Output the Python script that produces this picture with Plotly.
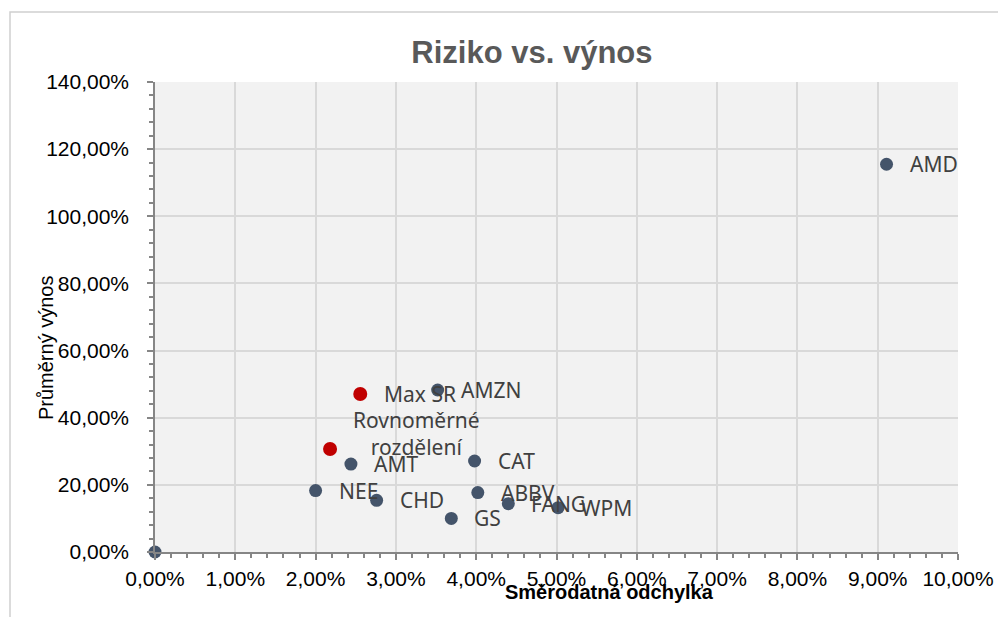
import plotly.graph_objects as go

# Data (std dev, mean return)
names = ["AMD", "AMZN", "CAT", "AMT", "NEE", "CHD", "ABBV", "FANG", "WPM", "GS", ""]
risk = [0.0911, 0.0352, 0.0398, 0.0244, 0.0200, 0.0276, 0.0402, 0.0440, 0.0502, 0.0369, 0.0]
ret = [1.155, 0.4826, 0.271, 0.262, 0.183, 0.154, 0.177, 0.144, 0.132, 0.100, 0.0]

port_names = ["Max SR", "Rovnoměrné<br>rozdělení"]
port_risk = [0.02556, 0.0218]
port_ret = [0.4706, 0.307]

x_ticks = [i / 100 for i in range(0, 11)]
y_ticks = [i / 100 for i in range(0, 141, 20)]

BLUE = "#44546A"
RED = "#C00000"
AXIS = "#868686"
GRID = "#D9D9D9"

fig = go.Figure()
fig.add_trace(go.Scatter(
    x=port_risk, y=port_ret, mode="markers",
    marker=dict(size=14, color=RED), cliponaxis=False, hoverinfo="skip"))
fig.add_trace(go.Scatter(
    x=risk, y=ret, mode="markers",
    marker=dict(size=13, color=BLUE), cliponaxis=False, hoverinfo="skip"))

label_font = dict(family="Noto Sans", size=21, color="#404040")
annotations = []
for n, xv, yv in zip(names, risk, ret):
    if n:
        annotations.append(dict(x=xv, y=yv, xref="x", yref="y", text=n, showarrow=False,
                                xanchor="left", yanchor="middle", xshift=21, font=label_font))
annotations.append(dict(x=port_risk[0], y=port_ret[0], xref="x", yref="y", text=port_names[0],
                        showarrow=False, xanchor="left", yanchor="middle", xshift=22, font=label_font))
annotations.append(dict(x=port_risk[1], y=port_ret[1], xref="x", yref="y", text=port_names[1],
                        showarrow=False, xanchor="center", yanchor="middle", align="center",
                        xshift=86, yshift=15, font=label_font))

# axis titles
annotations.append(dict(x=0.5654, y=-0.085, xref="paper", yref="paper", text="Směrodatná odchylka",
                        showarrow=False, xanchor="center", yanchor="middle",
                        font=dict(family="Liberation Sans", size=20, color="black", weight="bold")))
annotations.append(dict(x=-0.1357, y=0.434, xref="paper", yref="paper", text="Průměrný výnos",
                        showarrow=False, xanchor="center", yanchor="middle", textangle=-90,
                        font=dict(family="Liberation Sans", size=20, color="black")))

tick_font = dict(family="Liberation Sans", size=21, color="black")

fig.update_layout(
    width=998, height=617,
    margin=dict(l=155, r=40, t=82, b=65, autoexpand=False),
    paper_bgcolor="white", plot_bgcolor="#F2F2F2",
    separators=", ",
    showlegend=False,
    title=dict(text="Riziko vs. výnos", xref="container", yref="container",
               x=0.533, y=1 - 52 / 617, xanchor="center", yanchor="middle",
               font=dict(family="Liberation Sans", size=31, color="#595959", weight="bold")),
    xaxis=dict(range=[0, 0.10], tickvals=x_ticks, tickformat=".2%", automargin=False,
               showgrid=True, gridcolor=GRID, gridwidth=1.5, zeroline=False,
               showline=True, linecolor=AXIS, linewidth=1.5,
               ticks="outside", ticklen=6, tickcolor=AXIS, tickwidth=1.5,
               ticklabelstandoff=1, tickfont=tick_font,
               minor=dict(dtick=0.002, ticks="outside", ticklen=4, tickcolor=AXIS, tickwidth=1.5, showgrid=False)),
    yaxis=dict(range=[0, 1.40], tickvals=y_ticks, tickformat=".2%", automargin=False,
               showgrid=True, gridcolor=GRID, gridwidth=1.5, zeroline=False,
               showline=True, linecolor=AXIS, linewidth=1.5,
               ticks="outside", ticklen=6, tickcolor=AXIS, tickwidth=1.5,
               ticklabelstandoff=14, tickfont=tick_font,
               minor=dict(dtick=0.04, ticks="outside", ticklen=4, tickcolor=AXIS, tickwidth=1.5, showgrid=False)),
    annotations=annotations,
    shapes=[dict(type="rect", xref="paper", yref="paper",
                 x0=(10 - 155) / 803, x1=1.06, y0=-0.2, y1=(552 - 12) / 470,
                 line=dict(color="#D0D0D0", width=1.5), layer="below")],
)

fig.write_html("out.html", config={"displayModeBar": False},
               post_script="document.body.style.margin='0px';")
